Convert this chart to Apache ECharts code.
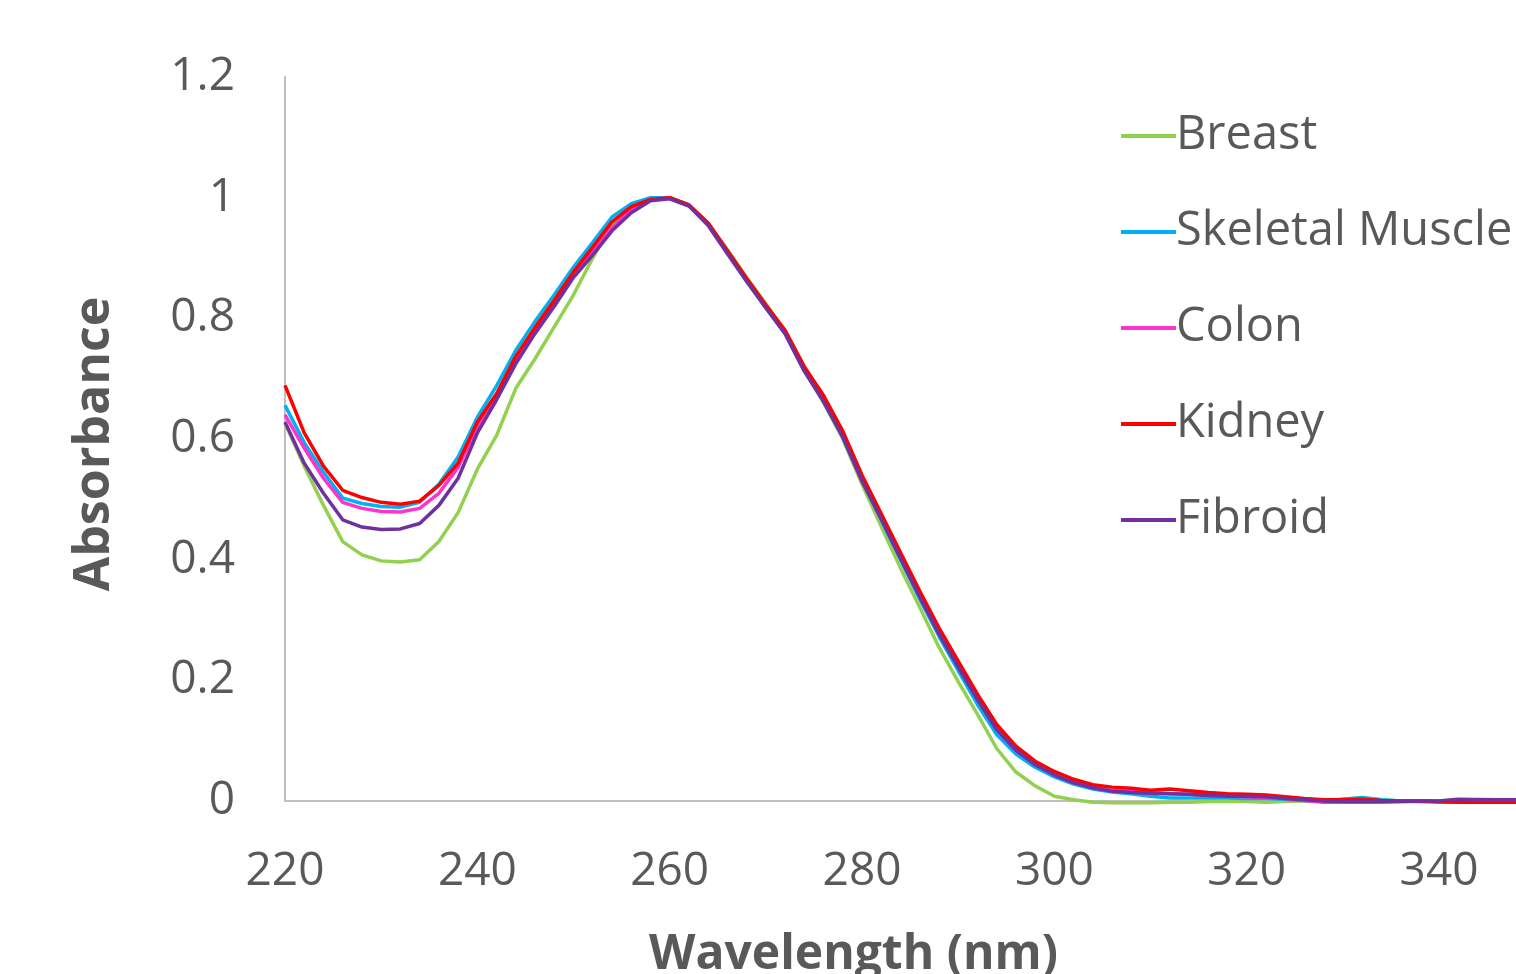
<!DOCTYPE html>
<html>
<head>
<meta charset="utf-8">
<script src="https://cdn.jsdelivr.net/npm/echarts@6/dist/echarts.min.js"></script>
<style>
  html, body { margin: 0; padding: 0; background: #fff; }
  #chart { width: 1516px; height: 974px; }
</style>
</head>
<body>
<div id="chart"></div>
<script>
const wavelengths = [
	220, 222, 224, 226, 228, 230, 232, 234, 236, 238,
	240, 242, 244, 246, 248, 250, 252, 254, 256, 258,
	260, 262, 264, 266, 268, 270, 272, 274, 276, 278,
	280, 282, 284, 286, 288, 290, 292, 294, 296, 298,
	300, 302, 304, 306, 308, 310, 312, 314, 316, 318,
	320, 322, 324, 326, 328, 330, 332, 334, 336, 338,
	340, 342, 344, 346, 348
];

const breast = [
	0.626, 0.555, 0.49, 0.43, 0.408, 0.398, 0.396, 0.4, 0.43, 0.478,
	0.55, 0.606, 0.684, 0.733, 0.786, 0.839, 0.9, 0.955, 0.985, 0.998,
	1.0, 0.988, 0.957, 0.914, 0.868, 0.824, 0.778, 0.716, 0.66, 0.6,
	0.525, 0.455, 0.386, 0.321, 0.255, 0.198, 0.144, 0.087, 0.048, 0.025,
	0.008, 0.002, -0.002, -0.003, -0.003, -0.003, -0.002, -0.002, -0.001, -0.001,
	-0.001, -0.002, -0.001, 0.0, 0.001, 0.003, 0.005, 0.002, 0.0, -0.001,
	0.0, 0.002, 0.003, 0.002, 0.001
];

const skeletalMuscle = [
	0.656, 0.594, 0.545, 0.502, 0.493, 0.488, 0.487, 0.495, 0.525, 0.57,
	0.636, 0.688, 0.747, 0.795, 0.839, 0.885, 0.926, 0.968, 0.99, 1.0,
	1.0, 0.988, 0.957, 0.912, 0.865, 0.82, 0.776, 0.716, 0.665, 0.605,
	0.532, 0.466, 0.4, 0.335, 0.273, 0.216, 0.16, 0.11, 0.078, 0.056,
	0.04, 0.028, 0.02, 0.015, 0.012, 0.008, 0.005, 0.005, 0.005, 0.005,
	0.004, 0.004, 0.003, 0.001, 0.0, 0.003, 0.006, 0.002, 0.0, 0.0,
	-0.001, 0.0, 0.001, 0.001, 0.001
];

const colon = [
	0.64, 0.585, 0.535, 0.495, 0.485, 0.48, 0.479, 0.485, 0.51, 0.553,
	0.62, 0.67, 0.73, 0.78, 0.825, 0.872, 0.91, 0.95, 0.98, 0.997,
	1.0, 0.987, 0.956, 0.91, 0.864, 0.818, 0.776, 0.715, 0.665, 0.606,
	0.533, 0.469, 0.404, 0.34, 0.279, 0.225, 0.171, 0.121, 0.087, 0.062,
	0.045, 0.032, 0.023, 0.018, 0.016, 0.014, 0.012, 0.011, 0.01, 0.008,
	0.007, 0.006, 0.004, 0.001, -0.002, -0.002, -0.002, -0.002, -0.001, -0.001,
	-0.002, -0.002, -0.002, -0.001, -0.001
];

const kidney = [
	0.689, 0.61, 0.555, 0.515, 0.503, 0.495, 0.492, 0.497, 0.523, 0.56,
	0.628, 0.675, 0.737, 0.785, 0.83, 0.877, 0.918, 0.96, 0.985, 0.997,
	1.0, 0.988, 0.958, 0.912, 0.866, 0.822, 0.78, 0.72, 0.672, 0.613,
	0.54, 0.476, 0.412, 0.348, 0.287, 0.232, 0.177, 0.127, 0.091, 0.066,
	0.049, 0.036, 0.027, 0.023, 0.021, 0.018, 0.02, 0.017, 0.014, 0.012,
	0.011, 0.01, 0.007, 0.004, 0.002, 0.002, 0.003, 0.001, 0.0, 0.0,
	-0.001, -0.002, -0.002, -0.002, -0.002
];

const fibroid = [
	0.628, 0.56, 0.51, 0.466, 0.454, 0.45, 0.451, 0.46, 0.49, 0.535,
	0.61, 0.665, 0.725, 0.775, 0.82, 0.868, 0.905, 0.945, 0.975, 0.995,
	0.998, 0.986, 0.954, 0.907, 0.861, 0.817, 0.774, 0.712, 0.662, 0.603,
	0.53, 0.467, 0.402, 0.338, 0.277, 0.222, 0.168, 0.118, 0.084, 0.06,
	0.043, 0.03, 0.022, 0.016, 0.014, 0.013, 0.012, 0.011, 0.009, 0.008,
	0.008, 0.007, 0.004, 0.002, 0.0, -0.001, -0.001, -0.001, -0.001, 0.0,
	0.0, 0.003, 0.002, 0.002, 0.002
];

const seriesNames = ["Breast", "Skeletal Muscle", "Colon", "Kidney", "Fibroid"];
const seriesData = [breast, skeletalMuscle, colon, kidney, fibroid];
const colors = ["#92d050", "#00b0f0", "#ff33cc", "#ff0000", "#7030a0"];

const xTicks = [220, 240, 260, 280, 300, 320, 340];

const textColor = "#595959";
const fontFamily = "'Open Sans', 'Noto Sans', sans-serif";

const chart = echarts.init(document.getElementById("chart"), null, { renderer: "canvas" });

const option = {
	animation: false,
	color: colors,
	grid: {
		left: 285,
		right: 0,
		top: 77,
		bottom: 173,
		containLabel: false,
		outerBoundsMode: "none"
	},
	legend: {
		orient: "vertical",
		left: 1116,
		top: 103,
		icon: "rect",
		itemWidth: 55,
		itemHeight: 4,
		itemGap: 40,
		textStyle: {
			color: textColor,
			fontFamily: fontFamily,
			fontSize: 47,
			lineHeight: 56,
			padding: [0, 0, 0, -5]
		},
		data: seriesNames
	},
	xAxis: {
		type: "value",
		min: 220,
		max: 348,
		interval: 20,
		name: "Wavelength (nm)",
		nameLocation: "middle",
		nameGap: 130,
		nameTextStyle: {
			color: textColor,
			fontFamily: fontFamily,
			fontWeight: "bold",
			fontSize: 48,
			lineHeight: 48,
			padding: [0, 94, 0, 0]
		},
		axisLine: { show: true, onZero: false, lineStyle: { color: "#bfbfbf", width: 2 } },
		axisTick: { show: false },
		splitLine: { show: false },
		axisLabel: {
			color: textColor,
			fontFamily: fontFamily,
			fontSize: 46,
			lineHeight: 46,
			margin: 48,
			formatter: (v) => (xTicks.includes(v) ? String(v) : "")
		}
	},
	yAxis: {
		type: "value",
		min: 0,
		max: 1.2,
		interval: 0.2,
		name: "Absorbance",
		nameLocation: "middle",
		nameRotate: 90,
		nameGap: 165,
		nameTextStyle: {
			color: textColor,
			fontFamily: fontFamily,
			fontWeight: "bold",
			fontSize: 50,
			lineHeight: 50,
			padding: [0, 10, 0, 0]
		},
		axisLine: { show: true, lineStyle: { color: "#bfbfbf", width: 2 } },
		axisTick: { show: false },
		splitLine: { show: false },
		axisLabel: {
			color: textColor,
			fontFamily: fontFamily,
			fontSize: 46,
			margin: 50
		}
	},
	series: seriesNames.map((name, i) => ({
		name: name,
		type: "line",
		showSymbol: false,
		symbol: "none",
		smooth: false,
		clip: false,
		lineStyle: { width: 3.5, color: colors[i] },
		data: wavelengths.map((w, j) => [w, seriesData[i][j]])
	}))
};

chart.setOption(option);
window.addEventListener("resize", chart.resize);
</script>
</body>
</html>
